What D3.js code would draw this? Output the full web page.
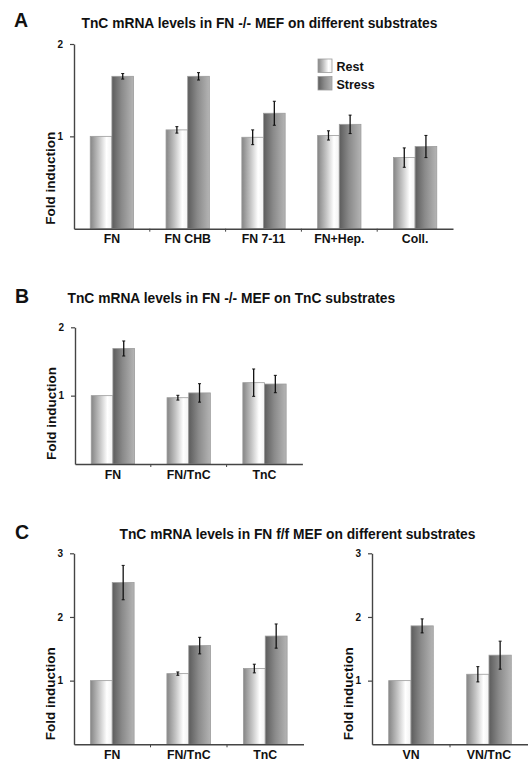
<!DOCTYPE html>
<html>
<head>
<meta charset="utf-8">
<script src="https://cdn.jsdelivr.net/npm/d3@7"></script>
<style>
  body { margin: 0; background: #fff; }
  text { font-family: "Liberation Sans", Arial, sans-serif; font-weight: bold; fill: #111; }
</style>
</head>
<body>
<script>
// panel A: FN -/- MEF on different substrates
var catsA = ["FN", "FN CHB", "FN 7-11", "FN+Hep.", "Coll."];
var restA = [1.00, 1.07, 0.99, 1.01, 0.77];
var stressA = [1.65, 1.65, 1.25, 1.13, 0.89];
var restErrA = [0, 0.035, 0.08, 0.05, 0.105];
var stressErrA = [0.03, 0.04, 0.13, 0.10, 0.12];

// panel B: FN -/- MEF on TnC substrates
var catsB = ["FN", "FN/TnC", "TnC"];
var restB = [1.00, 0.97, 1.19];
var stressB = [1.69, 1.04, 1.17];
var restErrB = [0, 0.035, 0.20];
var stressErrB = [0.11, 0.135, 0.127];

// panel C: FN f/f MEF, left and right
var catsC1 = ["FN", "FN/TnC", "TnC"];
var restC1 = [1.00, 1.11, 1.19];
var stressC1 = [2.54, 1.55, 1.70];
var restErrC1 = [0, 0.026, 0.068];
var stressErrC1 = [0.27, 0.13, 0.19];

var catsC2 = ["VN", "VN/TnC"];
var restC2 = [1.00, 1.10];
var stressC2 = [1.86, 1.40];
var restErrC2 = [0, 0.12];
var stressErrC2 = [0.11, 0.22];

var series = ["Rest", "Stress"];
var ticksTwo = [1, 2];
var ticksThree = [1, 2, 3];

var svg = d3.select('body').append('svg')
  .attr('width', 528)
  .attr('height', 761);

var defs = svg.append('defs');
function grad(id, stops) {
  var g = defs.append('linearGradient').attr('id', id)
    .attr('x1', 0).attr('x2', 1).attr('y1', 0).attr('y2', 0);
  g.selectAll('stop').data(stops).enter().append('stop')
    .attr('offset', function(d) { return d[0]; })
    .attr('stop-color', function(d) { return d[1]; });
}
grad('gRest', [['0%', '#858585'], ['40%', '#c4c4c4'], ['75%', '#ffffff'], ['100%', '#f2f2f2']]);
grad('gStress', [['0%', '#5c5c5c'], ['45%', '#8a8a8a'], ['100%', '#b4b4b4']]);

function panel(o) {
  var x0 = d3.scaleBand().domain(o.cats).range([o.left, o.right]);
  var x1 = d3.scaleBand().domain(series).range([0, x0.bandwidth()])
    .paddingInner(0).paddingOuter(0.75);
  var y = d3.scaleLinear().domain([0, o.max]).range([o.bottom, o.top]);

  var rows = [];
  o.cats.forEach(function(c, i) {
    rows.push({cat: c, s: 'Rest', v: o.rest[i], e: o.restErr[i]});
    rows.push({cat: c, s: 'Stress', v: o.stress[i], e: o.stressErr[i]});
  });

  var g = svg.append('g');

  g.selectAll('rect.bar').data(rows).enter().append('rect')
    .attr('class', 'bar')
    .attr('x', function(d) { return x0(d.cat) + x1(d.s); })
    .attr('width', x1.bandwidth())
    .attr('y', function(d) { return y(d.v); })
    .attr('height', function(d) { return y(0) - y(d.v); })
    .attr('fill', function(d) { return d.s == 'Rest' ? 'url(#gRest)' : 'url(#gStress)'; })
    .attr('stroke', '#9c9c9c')
    .attr('stroke-width', 0.8);

  var errs = g.selectAll('g.err').data(rows.filter(function(d) { return d.e > 0; }))
    .enter().append('g')
    .attr('transform', function(d) {
      return 'translate(' + (x0(d.cat) + x1(d.s) + x1.bandwidth() / 2) + ',0)';
    });
  errs.append('line')
    .attr('y1', function(d) { return y(d.v - d.e); })
    .attr('y2', function(d) { return y(d.v + d.e); })
    .attr('stroke', '#111').attr('stroke-width', 1.3);
  errs.selectAll('line.cap').data(function(d) { return [d.v - d.e, d.v + d.e]; })
    .enter().append('line').attr('class', 'cap')
    .attr('x1', -1.5).attr('x2', 1.5)
    .attr('y1', function(d) { return y(d); })
    .attr('y2', function(d) { return y(d); })
    .attr('stroke', '#111').attr('stroke-width', 1);

  // y axis
  var ya = g.append('g')
    .attr('transform', 'translate(' + o.left + ',0)')
    .call(d3.axisLeft(y).tickValues(o.ticks).tickFormat(d3.format('d'))
      .tickSize(4).tickSizeOuter(0).tickPadding(7));
  ya.select('.domain').attr('stroke', '#444').attr('stroke-width', 1.4);
  ya.selectAll('.tick line').attr('stroke', '#444').attr('stroke-width', 1.2);
  ya.selectAll('.tick text').style('font-size', '10px').style('font-family', '"Liberation Sans", Arial, sans-serif')
    .style('font-weight', 'bold').attr('fill', '#111');

  // x axis
  var xa = g.append('g')
    .attr('transform', 'translate(0,' + o.bottom + ')')
    .call(d3.axisBottom(x0).tickSize(0).tickPadding(6));
  xa.select('.domain').attr('stroke', '#444').attr('stroke-width', 1.4);
  xa.selectAll('.tick text').style('font-size', '12.3px').style('font-family', '"Liberation Sans", Arial, sans-serif')
    .style('font-weight', 'bold').attr('fill', '#111').attr('dy', '0.71em');
  g.selectAll('line.sep').data(o.cats.slice(1)).enter().append('line')
    .attr('class', 'sep')
    .attr('x1', function(d) { return x0(d); })
    .attr('x2', function(d) { return x0(d); })
    .attr('y1', o.bottom).attr('y2', o.bottom + 3)
    .attr('stroke', '#444').attr('stroke-width', 1);

  g.append('text')
    .attr('transform', 'translate(' + (o.left - 19.5) + ',' + (o.bottom - 4) + ') rotate(-90)')
    .style('font-size', '13.5px')
    .text('Fold induction');
}

panel({cats: catsA, rest: restA, stress: stressA, restErr: restErrA, stressErr: stressErrA,
  left: 74, right: 453, top: 44, bottom: 228.7, max: 2, ticks: ticksTwo});
panel({cats: catsB, rest: restB, stress: stressB, restErr: restErrB, stressErr: stressErrB,
  left: 75, right: 302.4, top: 327.3, bottom: 464, max: 2, ticks: ticksTwo});
panel({cats: catsC1, rest: restC1, stress: stressC1, restErr: restErrC1, stressErr: stressErrC1,
  left: 74, right: 303.5, top: 553.3, bottom: 744.3, max: 3, ticks: ticksThree});
panel({cats: catsC2, rest: restC2, stress: stressC2, restErr: restErrC2, stressErr: stressErrC2,
  left: 372, right: 528, top: 553.3, bottom: 744.3, max: 3, ticks: ticksThree});

// titles and panel letters
var titles = [
  ['A', 14, 26.7, 'TnC mRNA levels in FN -/- MEF on different substrates', 81.5, 28],
  ['B', 15, 303.3, 'TnC mRNA levels in FN -/- MEF on TnC substrates', 67.5, 302.5],
  ['C', 15, 539.3, 'TnC mRNA levels in FN f/f MEF on different substrates', 119.5, 539.3]
];
titles.forEach(function(t) {
  svg.append('text').attr('x', t[1]).attr('y', t[2]).style('font-size', '19.5px').text(t[0]);
  svg.append('text').attr('x', t[4]).attr('y', t[5]).style('font-size', '13.8px').text(t[3]);
});

// legend in panel A
var leg = svg.append('g').attr('transform', 'translate(318,59)');
leg.selectAll('rect').data(series).enter().append('rect')
  .attr('x', 0).attr('y', function(d, i) { return i * 17.5; })
  .attr('width', 14).attr('height', 13.5)
  .attr('fill', function(d) { return d == 'Rest' ? 'url(#gRest)' : 'url(#gStress)'; })
  .attr('stroke', '#9c9c9c').attr('stroke-width', 0.8);
leg.selectAll('text').data(series).enter().append('text')
  .attr('x', 18.5).attr('y', function(d, i) { return 12 + i * 17.5; })
  .style('font-size', '12.5px')
  .text(function(d) { return d; });
</script>
</body>
</html>
